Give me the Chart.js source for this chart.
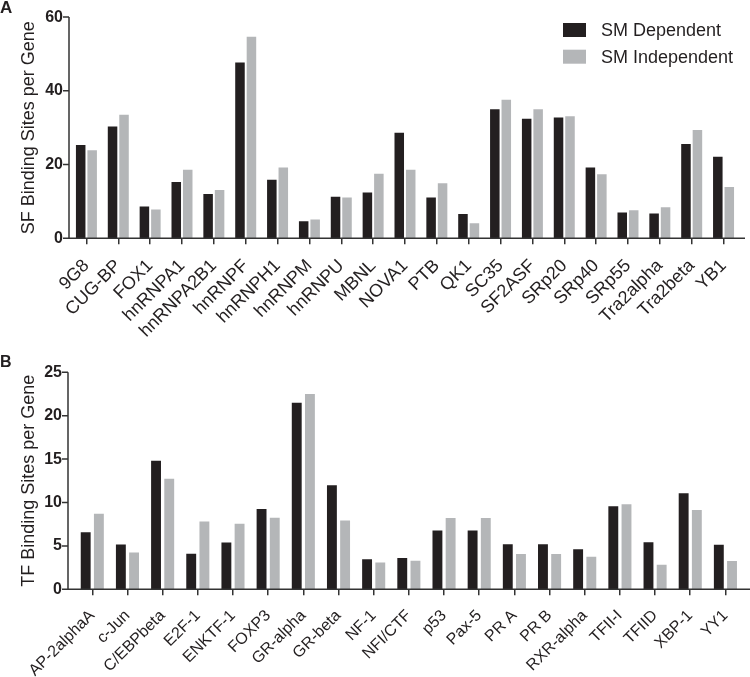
<!DOCTYPE html>
<html>
<head>
<meta charset="utf-8">
<script src="https://cdn.jsdelivr.net/npm/chart.js@4.4.1/dist/chart.umd.min.js"></script>
<style>
  body { margin: 0; background: #fff; }
  .panel { position: absolute; left: 0; width: 750px; }
  #boxA { top: 0; height: 350px; }
  #boxB { top: 350px; height: 327px; }
</style>
</head>
<body>
<div class="panel" id="boxA"><canvas id="chartA"></canvas></div>
<div class="panel" id="boxB"><canvas id="chartB"></canvas></div>
<script>
// panel A - splicing factors
const sfGenes = ["9G8", "CUG-BP", "FOX1", "hnRNPA1", "hnRNPA2B1", "hnRNPF", "hnRNPH1", "hnRNPM",
  "hnRNPU", "MBNL", "NOVA1", "PTB", "QK1", "SC35", "SF2ASF", "SRp20", "SRp40", "SRp55",
  "Tra2alpha", "Tra2beta", "YB1"];
const sfDependent = [25.3, 30.3, 8.6, 15.3, 12.0, 47.7, 15.9, 4.6, 11.3, 12.4, 28.6, 11.1, 6.6,
  35.0, 32.4, 32.8, 19.2, 7.0, 6.7, 25.6, 22.1];
const sfIndependent = [23.9, 33.5, 7.8, 18.6, 13.1, 54.7, 19.2, 5.1, 11.1, 17.5, 18.6, 14.9, 4.1,
  37.6, 35.0, 33.1, 17.4, 7.6, 8.4, 29.4, 13.9];
const sfTicks = [0, 20, 40, 60];

// panel B - transcription factors
const tfGenes = ["AP-2alphaA", "c-Jun", "C/EBPbeta", "E2F-1", "ENKTF-1", "FOXP3", "GR-alpha",
  "GR-beta", "NF-1", "NFI/CTF", "p53", "Pax-5", "PR A", "PR B", "RXR-alpha", "TFII-I", "TFIID",
  "XBP-1", "YY1"];
const tfDependent = [6.57, 5.16, 14.8, 4.1, 5.38, 9.24, 21.5, 12.0, 3.47, 3.6, 6.76, 6.76, 5.2,
  5.2, 4.6, 9.58, 5.42, 11.06, 5.12];
const tfIndependent = [8.69, 4.23, 12.73, 7.8, 7.54, 8.24, 22.5, 7.94, 3.08, 3.3, 8.2, 8.2, 4.08,
  4.08, 3.75, 9.8, 2.82, 9.13, 3.27];
const tfTicks = [0, 5, 10, 15, 20, 25];

const seriesNames = ["SM Dependent", "SM Independent"];
const black = "#231f20";
const grey = "#b4b6b8";
const axisColor = "#333333";
const textColor = "#231f20";
const family = "'Liberation Sans', Arial, Helvetica, sans-serif";

// draws the y axis line, its ticks and the x axis line (axis sits left of the first category)
const axisLines = {
  id: "axisLines",
  afterDatasetsDraw(chart, args, o) {
    const { ctx, chartArea, scales } = chart;
    ctx.save();
    ctx.strokeStyle = axisColor;
    ctx.lineWidth = 1.5;
    ctx.beginPath();
    ctx.moveTo(o.x, chartArea.top);
    ctx.lineTo(o.x, chartArea.bottom);
    ctx.lineTo(o.right, chartArea.bottom);
    scales.y.ticks.forEach((t) => {
      const y = scales.y.getPixelForValue(t.value);
      ctx.moveTo(o.x - 6, y);
      ctx.lineTo(o.x, y);
    });
    ctx.stroke();
    ctx.restore();
  },
};

// panel letter and the legend
const decor = {
  id: "decor",
  afterDraw(chart, args, o) {
    const ctx = chart.ctx;
    ctx.save();
    ctx.fillStyle = textColor;
    ctx.font = "bold " + o.letterSize + "px " + family;
    ctx.textBaseline = "alphabetic";
    ctx.fillText(o.letter, 0, o.letterY);
    if (o.legend) {
      ctx.font = "18px " + family;
      ctx.textBaseline = "middle";
      chart.data.datasets.forEach((ds, i) => {
        const y = 30 + i * 26.7;
        ctx.fillStyle = ds.backgroundColor;
        ctx.fillRect(563, y - 7, 23, 14);
        ctx.fillStyle = textColor;
        ctx.fillText(ds.label, 601, y + 1);
      });
    }
    ctx.restore();
  },
};

function makeChart(id, genes, dep, indep, yTicks, o) {
  return new Chart(document.getElementById(id), {
    type: "bar",
    data: {
      labels: genes,
      datasets: [
        { label: seriesNames[0], data: dep, backgroundColor: black,
          categoryPercentage: o.cat, barPercentage: o.bar },
        { label: seriesNames[1], data: indep, backgroundColor: grey,
          categoryPercentage: o.cat, barPercentage: o.bar },
      ],
    },
    options: {
      responsive: true,
      maintainAspectRatio: false,
      animation: false,
      layout: { padding: { top: o.top, right: o.right, left: 0, bottom: 0 } },
      plugins: {
        legend: { display: false },
        tooltip: { enabled: false },
        axisLines: { x: o.axisX, right: o.axisRight },
        decor: { letter: o.letter, letterY: o.letterY, letterSize: o.letterSize, legend: o.legend },
      },
      scales: {
        x: {
          grid: { display: true, offset: false, drawOnChartArea: false, drawTicks: true,
            tickLength: 6, color: axisColor, lineWidth: 1.5 },
          border: { display: false },
          ticks: { autoSkip: false, minRotation: 45, maxRotation: 45, padding: 11,
            color: textColor, font: { family: family, size: o.xFont } },
          afterFit: (s) => { s.height = o.xHeight; },
        },
        y: {
          min: 0,
          max: yTicks[yTicks.length - 1],
          afterBuildTicks: (s) => { s.ticks = yTicks.map((v) => ({ value: v })); },
          grid: { display: false, drawTicks: false, tickLength: 0 },
          border: { display: false },
          ticks: { padding: o.yLeft - o.labelEnd, color: textColor,
            font: { family: family, size: o.yFont, weight: "bold" } },
          title: { display: true, text: o.title, color: textColor,
            font: { family: family, size: 18 }, padding: { top: 18, bottom: 0 } },
          afterFit: (s) => { s.width = o.yLeft; },
        },
      },
    },
    plugins: [axisLines, decor],
  });
}

makeChart("chartA", sfGenes, sfDependent, sfIndependent, sfTicks, {
  cat: 0.72, bar: 0.83, top: 15, right: 7.5, yLeft: 70.5, axisX: 69, axisRight: 745,
  labelEnd: 63, xHeight: 111.7, xFont: 18, yFont: 16, title: "SF Binding Sites per Gene",
  letter: "A", letterY: 13, letterSize: 17, legend: true,
});

makeChart("chartB", tfGenes, tfDependent, tfIndependent, tfTicks, {
  cat: 0.75, bar: 0.75, top: 15, right: 0, yLeft: 74.7, axisX: 68, axisRight: 750,
  labelEnd: 62, xHeight: 87.7, xFont: 16, yFont: 16, title: "TF Binding Sites per Gene",
  letter: "B", letterY: 17, letterSize: 16, legend: false,
});
</script>
</body>
</html>
